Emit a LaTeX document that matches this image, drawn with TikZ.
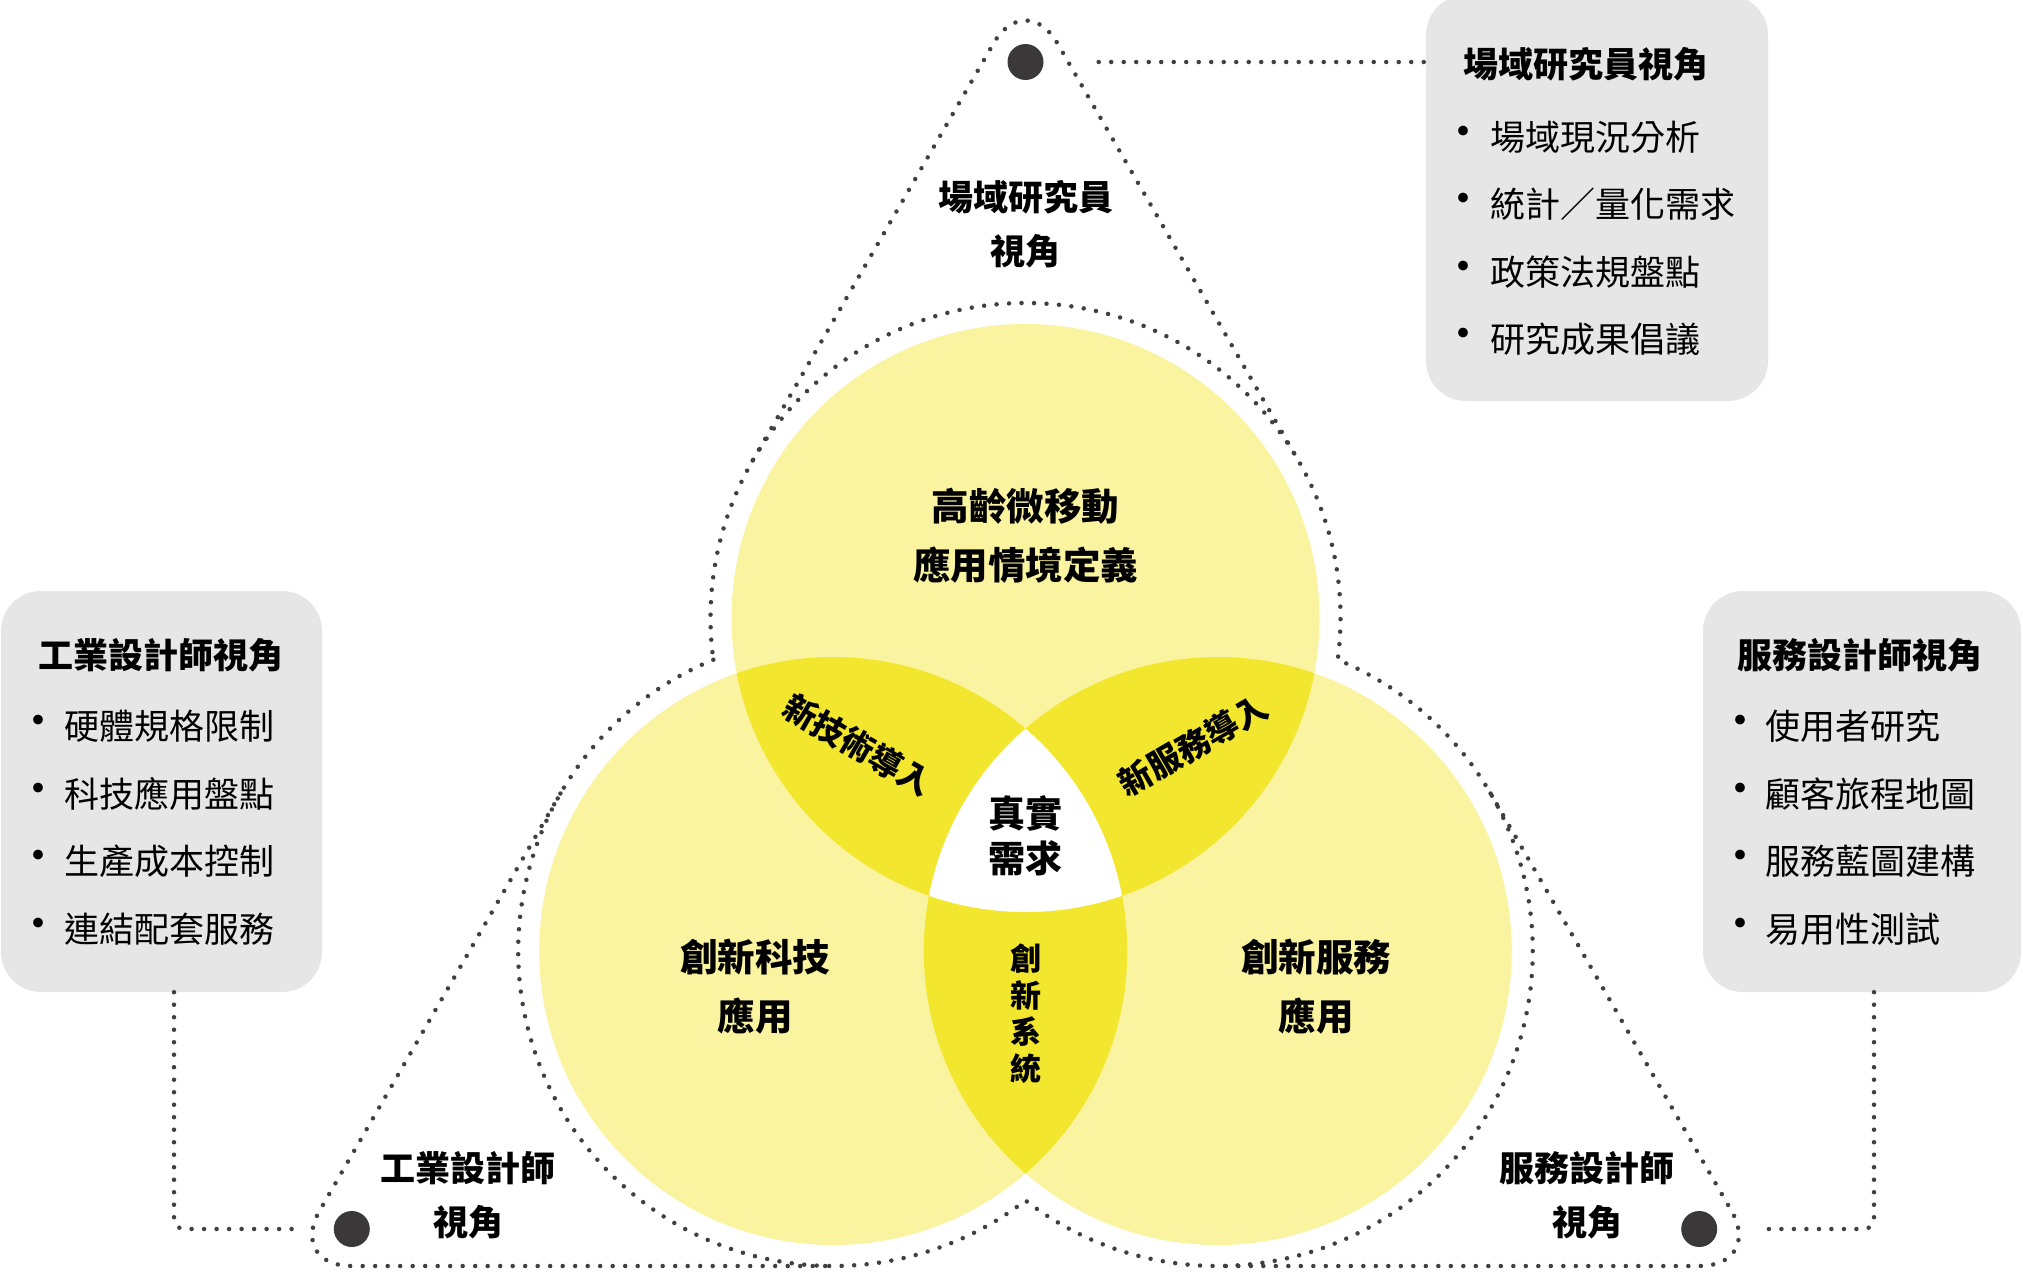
\documentclass[tikz,border=0pt]{standalone}
\usepackage{fontspec}
\setmainfont{Noto Sans CJK TC}
\usetikzlibrary{calc}
\definecolor{pale}{HTML}{FAF3A0}
\definecolor{bright}{HTML}{F2E72E}
\definecolor{boxgray}{HTML}{E6E6E6}
\definecolor{dotgray}{HTML}{3A3838}
\definecolor{linegray}{HTML}{404040}
\begin{document}
\begin{tikzpicture}[x=1pt,y=-1pt,
  dots/.style={draw=linegray, line width=4.5pt, line cap=round, dash pattern=on 0pt off 12.5pt},
  infobox/.style={fill=boxgray, rounded corners=40pt, inner sep=0pt},
  boxtitle/.style={font=\bfseries\fontsize{35pt}{42pt}\selectfont, inner sep=0pt},
  item/.style={font=\fontsize{35pt}{42pt}\selectfont, anchor=west, inner sep=0pt},
  bul/.style={font=\fontsize{46pt}{46pt}\selectfont, inner sep=0pt},
  persp/.style={font=\bfseries\fontsize{35pt}{54pt}\selectfont, align=center, inner sep=0pt},
  big/.style={font=\bfseries\fontsize{37.5pt}{59pt}\selectfont, align=center, inner sep=0pt},
  core/.style={font=\bfseries\fontsize{37pt}{45pt}\selectfont, align=center, inner sep=0pt},
  lens/.style={font=\bfseries\fontsize{33pt}{40pt}\selectfont, inner sep=0pt},
  vert/.style={font=\bfseries\fontsize{31pt}{36.5pt}\selectfont, align=center, inner sep=0pt},
  bigdot/.style={circle, fill=dotgray, minimum size=36pt, inner sep=0pt}
]
\useasboundingbox (0,0) rectangle (2023,1272);

% circle centres
\coordinate (CT) at (1025.5,618);
\coordinate (CL) at (833.24,951);
\coordinate (CR) at (1217.76,951);

% pale circles
\fill[pale] (CT) circle[radius=294];
\fill[pale] (CL) circle[radius=294];
\fill[pale] (CR) circle[radius=294];
% pairwise overlaps
\begin{scope}
  \clip (CT) circle[radius=294];
  \fill[bright] (CL) circle[radius=294];
  \fill[bright] (CR) circle[radius=294];
\end{scope}
\begin{scope}
  \clip (CL) circle[radius=294];
  \fill[bright] (CR) circle[radius=294];
\end{scope}
% triple overlap
\begin{scope}
  \clip (CT) circle[radius=294];
  \clip (CL) circle[radius=294];
  \fill[white] (CR) circle[radius=294];
\end{scope}

% dotted outline around the three circles
\draw[dots] ($(CL)+(247.62:315)$)
  arc[start angle=247.62, end angle=52.38, radius=315]
  arc[start angle=127.62, end angle=-67.62, radius=315]
  arc[start angle=7.62, end angle=-187.62, radius=315];

% dotted triangle corners
\coordinate (A) at (1025.5,-12);
\coordinate (BL) at (287.7,1266);
\coordinate (BR) at (1763.3,1266);
\coordinate (T1) at (752.7,460.5);
\coordinate (T2) at (1298.3,460.5);
\coordinate (T3) at (560.4,793.5);
\coordinate (T4) at (833.24,1266);
\coordinate (T5) at (1217.76,1266);
\coordinate (T6) at (1490.6,793.5);
\draw[dots, rounded corners=64pt] (T1) -- (A) -- (T2);
\draw[dots, rounded corners=64pt] (T3) -- (BL) -- (T4);
\draw[dots, rounded corners=64pt] (T6) -- (BR) -- (T5);

% info boxes
\node[infobox, minimum width=342pt, minimum height=406pt] (topbox) at (1597,198) {};
\node[infobox, minimum width=321pt, minimum height=401pt] (leftbox) at (161.5,791.5) {};
\node[infobox, minimum width=318pt, minimum height=401pt] (rightbox) at (1862,791.5) {};

% corner dots
\node[bigdot] (dt) at (1025.5,62) {};
\node[bigdot] (dbl) at (351.8,1229) {};
\node[bigdot] (dbr) at (1699.2,1229) {};

% connectors
\draw[dots, shorten <=55pt] (dt) -- (dt -| topbox.west);
\coordinate (lx) at (174,1229);
\coordinate (rx) at (1874,1229);
\draw[dots, rounded corners=10pt, shorten >=42pt] (lx |- leftbox.south) -- (lx) -- (dbl);
\draw[dots, rounded corners=10pt, shorten >=42pt] (rx |- rightbox.south) -- (rx) -- (dbr);

% box contents
\node[boxtitle] (tt) at (1586,64.5) {場域研究員視角};
\foreach \t [count=\i] in {場域現況分析,統計／量化需求,政策法規盤點,研究成果倡議}{
  \node[bul] (tb\i) at (1463.5,{137+67.5*(\i-1)}) {•};
  \node[item] (ti\i) at (1490,{137+67.5*(\i-1)}) {\t};
}
\node[boxtitle] (lt) at (161,655.4) {工業設計師視角};
\foreach \t [count=\i] in {硬體規格限制,科技應用盤點,生產成本控制,連結配套服務}{
  \node[bul] (lb\i) at (38.7,{726.5+67.5*(\i-1)}) {•};
  \node[item] (li\i) at (64.5,{726.5+67.5*(\i-1)}) {\t};
}
\node[boxtitle] (rt) at (1860.4,655.4) {服務設計師視角};
\foreach \t [count=\i] in {使用者研究,顧客旅程地圖,服務藍圖建構,易用性測試}{
  \node[bul] (rb\i) at (1740.5,{726.5+67.5*(\i-1)}) {•};
  \node[item] (ri\i) at (1765,{726.5+67.5*(\i-1)}) {\t};
}

% perspective labels
\node[persp] (pt) at (1025.5,224.5) {場域研究員\\視角};
\node[persp] (pl) at (468.3,1195.3) {工業設計師\\視角};
\node[persp] (pr) at (1587,1195.3) {服務設計師\\視角};

% circle labels
\node[big] (ct) at (1025.5,536) {高齡微移動\\應用情境定義};
\node[big] (cl) at (755,987) {創新科技\\應用};
\node[big] (cr) at (1316,987) {創新服務\\應用};
\node[core] (cc) at (1025.5,835.5) {真實\\需求};
\node[lens, rotate=-30] (ltl) at (858,745) {新技術導入};
\node[lens, rotate=30] (ltr) at (1193,745) {新服務導入};
\node[vert] (lbot) at (1025.5,1013.5) {創\\新\\系\\統};
\end{tikzpicture}
\end{document}
